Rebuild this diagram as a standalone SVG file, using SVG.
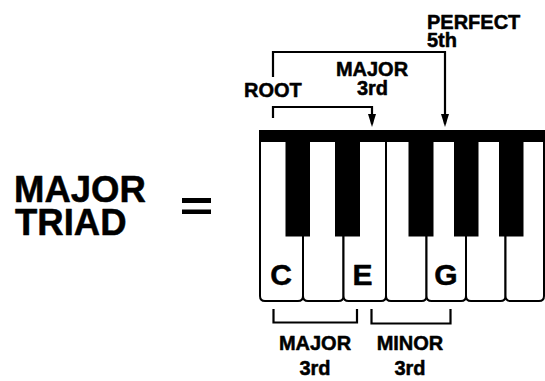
<svg xmlns="http://www.w3.org/2000/svg" width="545" height="381" viewBox="0 0 545 381">
  <style>
    .lbl { font-family: "Liberation Sans", Arial, Helvetica, sans-serif; font-weight: bold; fill: #000; stroke: #000; stroke-width: 0.5; stroke-linejoin: round; }
    .big { font-size: 36.5px; }
    .mid { font-size: 20px; }
    .note { font-size: 30px; text-anchor: middle; }
    .c { text-anchor: middle; }
    .white { fill: #fff; stroke: #000; stroke-width: 2; }
    .black { fill: #000; }
    .line { fill: none; stroke: #000; stroke-width: 2.2; }
  </style>
  <defs>
    <marker id="arrow" markerUnits="userSpaceOnUse" viewBox="0 0 13 8" markerWidth="13" markerHeight="8" refX="10" refY="4" orient="auto">
      <path d="M0,0 L13,4 L0,8 z" fill="#000"/>
    </marker>
  </defs>

  <rect width="545" height="381" fill="#fff"/>

  <!-- heading on the left -->
  <g id="title">
    <text class="lbl big" x="14" y="202">MAJOR</text>
    <text class="lbl big" x="15" y="235">TRIAD</text>
  </g>

  <g id="equals">
    <rect x="182" y="198" width="29" height="5" fill="#000"/>
    <rect x="182" y="209.5" width="29" height="4.5" fill="#000"/>
  </g>

  <!-- keyboard: white keys with rounded bottoms, top rail, black keys -->
  <g id="keyboard">
    <path class="white" d="M260,141 V296 Q260,301 265,301 H298 Q303,301 303,296 V141"/>
    <path class="white" d="M303,141 V296 Q303,301 308,301 H338.5 Q343.5,301 343.5,296 V141"/>
    <path class="white" d="M343.5,141 V296 Q343.5,301 348.5,301 H381 Q386,301 386,296 V141"/>
    <path class="white" d="M386,141 V296 Q386,301 391,301 H421.5 Q426.5,301 426.5,296 V141"/>
    <path class="white" d="M426.5,141 V296 Q426.5,301 431.5,301 H461 Q466,301 466,296 V141"/>
    <path class="white" d="M466,141 V296 Q466,301 471,301 H500.5 Q505.5,301 505.5,296 V141"/>
    <path class="white" d="M505.5,141 V296 Q505.5,301 510.5,301 H539 Q544,301 544,296 V141"/>
    <rect class="black" x="259" y="130" width="286" height="12"/>
    <rect class="black" x="285.5" y="141" width="24.5" height="95.5"/>
    <rect class="black" x="335" y="141" width="25" height="95.5"/>
    <rect class="black" x="408.5" y="141" width="25" height="95.5"/>
    <rect class="black" x="454" y="141" width="24.5" height="95.5"/>
    <rect class="black" x="499" y="141" width="24.5" height="95.5"/>
  </g>

  <g id="note-c"><text class="lbl note" x="281" y="285">C</text></g>
  <g id="note-e"><text class="lbl note" x="362.5" y="285">E</text></g>
  <g id="note-g"><text class="lbl note" x="446" y="285">G</text></g>

  <g id="label-root"><text class="lbl mid" x="244" y="97">ROOT</text></g>
  <g id="label-major-top">
    <text class="lbl mid c" x="372" y="76">MAJOR</text>
    <text class="lbl mid c" x="372.5" y="95">3rd</text>
  </g>
  <g id="label-perfect">
    <text class="lbl mid" x="427" y="28.5">PERFECT</text>
    <text class="lbl mid" x="427" y="46.5">5th</text>
  </g>
  <g id="label-major-bottom">
    <text class="lbl mid c" x="315" y="350">MAJOR</text>
    <text class="lbl mid c" x="315" y="375">3rd</text>
  </g>
  <g id="label-minor-bottom">
    <text class="lbl mid c" x="410" y="350">MINOR</text>
    <text class="lbl mid c" x="410" y="375">3rd</text>
  </g>

  <!-- interval brackets and arrows -->
  <g id="connectors">
    <path class="line" d="M273,77 V52 H445 V124" marker-end="url(#arrow)"/>
    <path class="line" d="M273,118 V107 H372 V124" marker-end="url(#arrow)"/>
    <path class="line" d="M273.5,309 V322.5 H357 V309"/>
    <path class="line" d="M371.5,309 V323.5 H450.5 V309"/>
  </g>
</svg>
